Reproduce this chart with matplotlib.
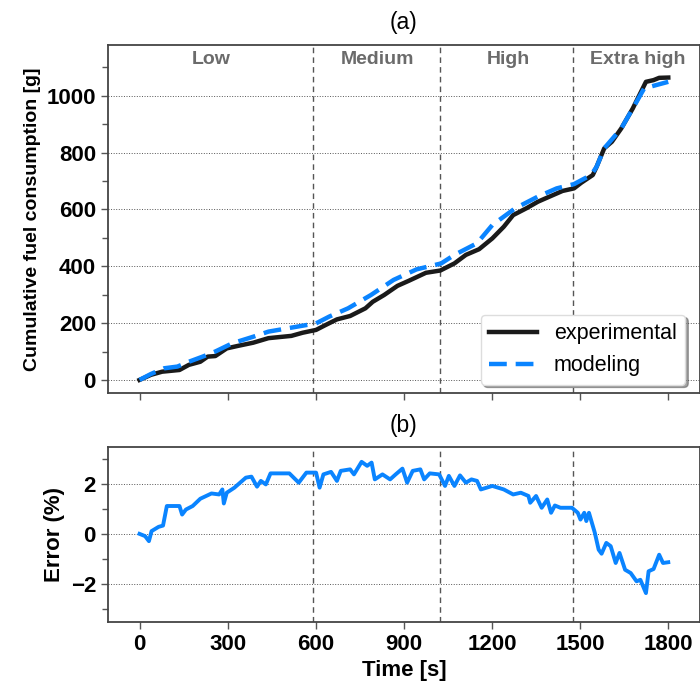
import numpy as np
import matplotlib.pyplot as plt
from matplotlib.ticker import MultipleLocator

plt.rcParams['font.family'] = ['Liberation Sans', 'DejaVu Sans']

# cumulative fuel consumption, experimental
t_exp = [0, 39, 77, 136, 168, 207, 232, 258, 297, 336, 387, 439, 517, 555, 601,
         633, 672, 717, 769, 794, 833, 878, 917, 975, 1024, 1072, 1111, 1156,
         1201, 1240, 1272, 1317, 1356, 1389, 1440, 1479, 1504, 1543, 1556, 1582,
         1608, 1640, 1679, 1724, 1750, 1769, 1800]
g_exp = [0, 18, 29, 35, 53, 64, 82, 84, 111, 120, 131, 147, 155, 166, 176,
         193, 213, 225, 252, 275, 299, 331, 349, 377, 385, 410, 440, 460,
         498, 539, 580, 604, 627, 642, 665, 674, 694, 721, 750, 815,
         838, 885, 955, 1049, 1055, 1063, 1064]

# cumulative fuel consumption, model
t_mod = [0, 39, 84, 129, 168, 220, 258, 316, 387, 439, 517, 601, 646, 710, 788,
         865, 943, 1027, 1072, 1149, 1201, 1279, 1356, 1420, 1479, 1537, 1556,
         1582, 1640, 1679, 1718, 1757, 1800]
g_mod = [0, 21, 41, 47, 64, 84, 100, 129, 152, 170, 184, 199, 223, 252, 299,
         352, 389, 410, 440, 481, 545, 604, 645, 674, 689, 721, 750,
         815, 885, 955, 1026, 1037, 1049]

# relative error (%)
t_err = [0, 19, 32, 41, 65, 80, 93, 136, 145, 158, 181, 207, 245, 271, 282, 287,
         297, 323, 362, 381, 400, 413, 430, 446, 510, 542, 568, 601, 613, 626,
         652, 672, 685, 717, 730, 756, 775, 790, 801, 827, 853, 872, 895, 911,
         930, 956, 969, 988, 1020, 1040, 1053, 1072, 1091, 1111, 1130, 1149,
         1162, 1201, 1240, 1272, 1298, 1324, 1330, 1350, 1369, 1388, 1401, 1414,
         1433, 1472, 1492, 1501, 1514, 1521, 1530, 1550, 1563, 1573, 1589, 1604,
         1621, 1634, 1653, 1672, 1692, 1705, 1724, 1733, 1750, 1769, 1782, 1800]
err = [0, -0.09, -0.29, 0.11, 0.28, 0.33, 1.11, 1.11, 0.77, 0.97, 1.11, 1.40,
       1.61, 1.57, 1.77, 1.21, 1.64, 1.84, 2.24, 2.28, 1.88, 2.11, 1.97, 2.41,
       2.41, 2.04, 2.44, 2.44, 1.84, 2.37, 2.47, 2.11, 2.51, 2.57, 2.37, 2.87,
       2.71, 2.84, 2.17, 2.37, 2.17, 2.37, 2.60, 2.04, 2.51, 2.57, 2.17, 2.41,
       2.37, 1.91, 2.31, 1.91, 2.33, 2.04, 2.17, 2.11, 1.77, 1.91, 1.77, 1.57,
       1.64, 1.51, 1.24, 1.51, 1.04, 1.37, 0.84, 1.13, 1.04, 1.04, 0.84, 0.57,
       0.84, 0.51, 0.84, 0.04, -0.63, -0.79, -0.36, -0.49, -1.16, -0.76, -1.43,
       -1.56, -1.89, -1.83, -2.36, -1.49, -1.40, -0.83, -1.16, -1.13]

phase_bounds = [589, 1022, 1477]
phase_names = ['Low', 'Medium', 'High', 'Extra high']
phase_label_x = [245, 810, 1255, 1697]

blue = '#0a84ff'

fig = plt.figure(figsize=(7, 6.86), dpi=100)
ax1 = fig.add_axes([0.154, 0.4267, 0.846, 0.5083])
ax2 = fig.add_axes([0.154, 0.0937, 0.846, 0.2543])

for ax in (ax1, ax2):
    ax.set_xlim(-108, 1908)
    ax.xaxis.set_major_locator(MultipleLocator(300))
    ax.grid(axis='y', color='#555555', linestyle=':', linewidth=0.7)
    for b in phase_bounds:
        ax.axvline(b, color='#555555', linestyle='--', linewidth=1.0, dashes=(4, 3))
    for s in ax.spines.values():
        s.set_color('#444444')
        s.set_linewidth(1.3)
    ax.tick_params(which='both', direction='out', color='#555555', width=1.0)
    ax.tick_params(which='major', length=5)
    ax.tick_params(which='minor', length=4)
    ax.tick_params(labelsize=16)

ax1.plot(t_exp, g_exp, color='#1a1a1a', linewidth=3.2, label='experimental')
ax1.plot(t_mod, g_mod, color=blue, linewidth=3.2, linestyle='--', dashes=(4, 2),
         label='modeling')
ax1.set_ylim(-47, 1180)
ax1.yaxis.set_major_locator(MultipleLocator(200))
ax1.yaxis.set_minor_locator(MultipleLocator(100))
ax1.tick_params(axis='x', labelbottom=False)
ax1.set_ylabel('Cumulative fuel consumption [g]', fontsize=14, fontweight='bold')
ax1.set_title('(a)', fontsize=16.5, pad=11.5)
for name, x in zip(phase_names, phase_label_x):
    ax1.text(x, 1128, name, ha='center', va='center', fontsize=14,
             fontweight='bold', color='#6b6b6b')
leg = ax1.legend(loc='lower right', fontsize=15.5, frameon=True, shadow=True,
                 fancybox=True, handlelength=2.2, borderaxespad=0.4,
                 bbox_to_anchor=(0.99, 0.0))
leg.get_frame().set_edgecolor('#dddddd')

ax2.plot(t_err, err, color=blue, linewidth=2.8)
ax2.set_ylim(-3.5, 3.45)
ax2.yaxis.set_major_locator(MultipleLocator(2))
ax2.yaxis.set_minor_locator(MultipleLocator(1))
ax2.set_ylabel('Error (%)', fontsize=16, fontweight='bold')
ax2.set_xlabel('Time [s]', fontsize=16, fontweight='bold')
ax2.set_title('(b)', fontsize=16.5, pad=11)

for ax in (ax1, ax2):
    for lab in ax.get_xticklabels() + ax.get_yticklabels():
        lab.set_fontweight('bold')

fig.savefig('out.png', dpi=100)
